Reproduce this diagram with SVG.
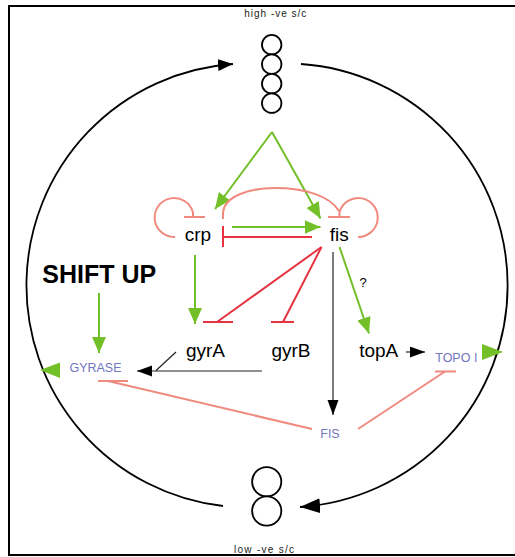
<svg xmlns="http://www.w3.org/2000/svg" width="515" height="557" viewBox="0 0 515 557">
<style>
text{font-family:"Liberation Sans",Arial,sans-serif}
.gene{font-size:19px;fill:#000;text-anchor:middle}
.prot{font-size:12.5px;fill:#7276bf;text-anchor:middle}
.small{font-size:10px;fill:#222;text-anchor:middle}
.blk{fill:none;stroke:#000;stroke-width:1.8}
.thin{fill:none;stroke:#222;stroke-width:1.2}
.grn{fill:none;stroke:#72bf27;stroke-width:2}
.red{fill:none;stroke:#e53340;stroke-width:2}
.sal{fill:none;stroke:#f08a7e;stroke-width:2}
.chr{fill:#fff;stroke:#000;stroke-width:1.8}
</style>
<defs>
<marker id="ga" markerUnits="userSpaceOnUse" markerWidth="17" markerHeight="15" refX="16" refY="7" orient="auto"><path d="M0,0 L16,7 L0,14 z" fill="#72bf27"/></marker>
<marker id="ba" markerUnits="userSpaceOnUse" markerWidth="16" markerHeight="12" refX="15" refY="5.5" orient="auto"><path d="M0,0 L15,5.5 L0,11 z" fill="#000"/></marker>
<marker id="bt" markerUnits="userSpaceOnUse" markerWidth="16" markerHeight="13" refX="15" refY="6" orient="auto"><path d="M0,0 L15,6 L0,12 z" fill="#000"/></marker>
<marker id="bb" markerUnits="userSpaceOnUse" markerWidth="21" markerHeight="16" refX="20" refY="7.5" orient="auto"><path d="M0,0 L20,7.5 L0,15 z" fill="#000"/></marker>
</defs>
<rect width="515" height="557" fill="#fff"/>
<rect x="9" y="6" width="530" height="549" fill="none" stroke="#000" stroke-width="2"/>

<g id="connectors">
<!-- supercoiling cycle -->
<path class="blk" d="M223 506 A222 222 0 0 1 233 64" marker-end="url(#bt)"/>
<path class="blk" d="M301 64 A222 222 0 0 1 300 507" marker-end="url(#bb)"/>
<!-- apex to crp and fis -->
<path class="grn" d="M272 132 L215 209" marker-end="url(#ga)"/>
<path class="grn" d="M272 132 L320.5 218.5" marker-end="url(#ga)"/>
<!-- crp self loop -->
<path class="sal" d="M193 217 L193 212.5 A19.5 19.5 0 1 0 175 237"/>
<line class="sal" x1="184" y1="217" x2="205" y2="217"/>
<!-- fis self loop -->
<path class="sal" d="M339.5 217 L339.5 212 A19.5 19.5 0 1 1 358 237"/>
<line class="sal" x1="328" y1="217" x2="350" y2="217"/>
<!-- crp -| fis -->
<path class="sal" d="M223 219 V214 C223 196 250 188 275 188 C305 188 330 196 339 211"/>
<!-- crp -> fis -->
<path class="grn" d="M232 227 L320.5 227" marker-end="url(#ga)"/>
<!-- fis -| crp -->
<line class="red" x1="312" y1="237" x2="223" y2="237"/>
<line class="red" x1="223" y1="226" x2="223" y2="247"/>
<!-- crp -> gyrA -->
<path class="grn" d="M195 255 L195 324" marker-end="url(#ga)"/>
<!-- fis -| gyrA, gyrB -->
<line class="red" x1="321.5" y1="247" x2="217" y2="322"/>
<line class="red" x1="203" y1="322" x2="233" y2="322"/>
<line class="red" x1="321.5" y1="247" x2="283" y2="322"/>
<line class="red" x1="271" y1="322" x2="294" y2="322"/>
<!-- fis -> FIS -->
<path class="thin" d="M333 252 L333 415" marker-end="url(#ba)"/>
<!-- fis -> topA (?) -->
<path class="grn" d="M339.5 247 L369 333.5" marker-end="url(#ga)"/>
<!-- topA -> TOPO I -->
<path class="thin" d="M406 352 L425 352" marker-end="url(#ba)"/>
<!-- gyrB, gyrA -> GYRASE -->
<path class="thin" d="M262 371 L137 371" marker-end="url(#ba)"/>
<line class="thin" stroke-width="1" x1="176" y1="352" x2="156" y2="370.5"/>
<!-- SHIFT UP -> GYRASE -->
<path class="grn" d="M99 293 L99 353" marker-end="url(#ga)"/>
<!-- GYRASE / TOPO I outputs -->
<polygon points="40,370 60,362.5 60,378" fill="#72bf27"/>
<polygon points="482,344 503,352 482,360" fill="#72bf27"/>
<!-- FIS -| GYRASE -->
<line class="sal" x1="312" y1="429" x2="108" y2="381"/>
<line class="sal" x1="98" y1="381" x2="128" y2="381"/>
<!-- FIS -| TOPO I -->
<line class="sal" x1="358" y1="429" x2="445" y2="371.5"/>
<line class="sal" x1="435" y1="371.5" x2="456" y2="371.5"/>
</g>

<g id="node-high">
<circle class="chr" cx="271.7" cy="44.7" r="9.75"/>
<circle class="chr" cx="271.7" cy="64.2" r="9.75"/>
<circle class="chr" cx="271.7" cy="83.7" r="9.75"/>
<circle class="chr" cx="271.7" cy="103.2" r="9.75"/>
<text class="small" x="275.3" y="16.5" textLength="62" lengthAdjust="spacing">high -ve s/c</text>
</g>
<g id="node-low">
<circle class="chr" cx="266.7" cy="481.8" r="14.6"/>
<circle class="chr" cx="266.7" cy="511" r="14.6"/>
<text class="small" x="264" y="552.5" textLength="60" lengthAdjust="spacing">low -ve s/c</text>
</g>
<g id="node-crp"><text class="gene" x="198" y="241">crp</text></g>
<g id="node-fis"><text class="gene" x="339.3" y="241">fis</text></g>
<g id="node-gyrA"><text class="gene" x="205.5" y="357">gyrA</text></g>
<g id="node-gyrB"><text class="gene" x="291" y="357">gyrB</text></g>
<g id="node-topA"><text class="gene" x="378.7" y="356.5">topA</text></g>
<g id="node-shiftup"><text x="99.2" y="283.3" font-size="25" font-weight="bold" text-anchor="middle">SHIFT UP</text></g>
<g id="node-GYRASE"><text class="prot" x="95.5" y="372.3">GYRASE</text></g>
<g id="node-FIS"><text class="prot" font-size="12" x="330" y="438">FIS</text></g>
<g id="node-TOPOI"><text class="prot" font-size="12" x="456.3" y="361.7">TOPO I</text></g>
<g id="label-q"><text x="363" y="287" font-size="13" text-anchor="middle">?</text></g>
</svg>
